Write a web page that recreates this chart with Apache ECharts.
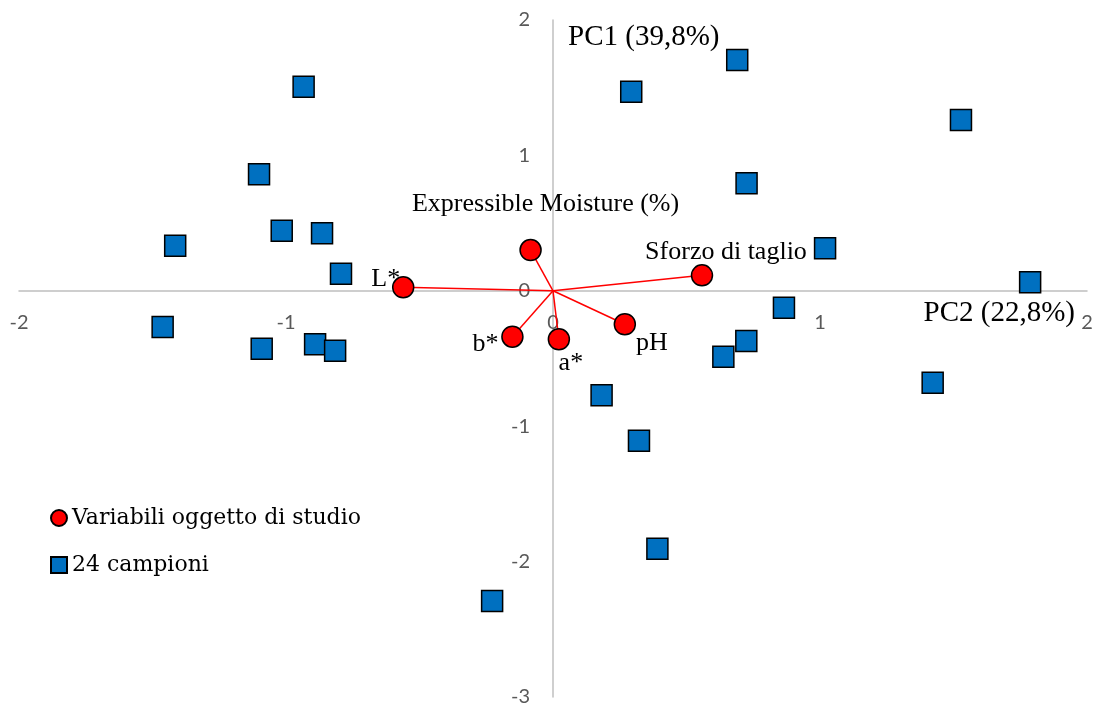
<!DOCTYPE html>
<html>
<head>
<meta charset="utf-8">
<script src="https://cdn.jsdelivr.net/npm/echarts@6/dist/echarts.min.js"></script>
<style>
html,body{margin:0;padding:0;background:#fff;}
#chart{width:1097px;height:707px;}
</style>
</head>
<body>
<div id="chart"></div>
<script>
// --- Data ---
const sampleX = [-0.934, -1.101, -1.415, -1.016, -0.865, -0.794, -1.462, -1.091, -0.891, -0.816,
                 0.293, 0.690, 0.725, 1.528, 1.019, 1.787, 0.865, 0.724, 0.638, 1.422,
                 0.182, 0.322, 0.391, -0.228];
const sampleY = [1.507, 0.860, 0.333, 0.444, 0.425, 0.126, -0.267, -0.428, -0.395, -0.442,
                 1.470, 1.705, 0.794, 1.261, 0.314, 0.063, -0.125, -0.371, -0.487, -0.679,
                 -0.772, -1.107, -1.905, -2.291];
const varNames = ['L*', 'Expressible Moisture (%)', 'Sforzo di taglio', 'pH', 'a*', 'b*'];
const varX = [-0.561, -0.084, 0.558, 0.269, 0.022, -0.152];
const varY = [0.026, 0.301, 0.114, -0.247, -0.358, -0.339];
const seriesVarName = 'Variabili oggetto di studio';
const seriesSampleName = '24 campioni';
const xAxisTitle = 'PC2 (22,8%)';
const yAxisTitle = 'PC1 (39,8%)';
const xMin = -2, xMax = 2, xStep = 1;
const yMin = -3, yMax = 2, yStep = 1;

// --- Styling / label placement (not data) ---
const labelPlace = [
  {align: 'right',  dx: -3,  dy: -8},
  {align: 'center', dx: 15,  dy: -46},
  {align: 'center', dx: 24,  dy: -23},
  {align: 'center', dx: 27,  dy: 19},
  {align: 'center', dx: 12,  dy: 24},
  {align: 'right',  dx: -14, dy: 7}
];
const serif = 'Liberation Serif';
const tickFont = 'Lato';
const gridBox = {left: 19, right: 10, top: 20, bottom: 10};

const chart = echarts.init(document.getElementById('chart'), null, {renderer: 'canvas'});

const vectorSeries = varNames.map((n, i) => ({
  type: 'line',
  name: 'vec_' + i,
  data: [[0, 0], [varX[i], varY[i]]],
  symbol: 'none',
  silent: true,
  z: 2,
  lineStyle: {color: '#FF0000', width: 1.5},
  animation: false
}));

const varData = varNames.map((n, i) => ({
  name: n,
  value: [varX[i], varY[i]],
  label: {
    show: true,
    formatter: n,
    position: 'inside',
    align: labelPlace[i].align,
    verticalAlign: 'middle',
    offset: [labelPlace[i].dx, labelPlace[i].dy],
    color: '#000',
    fontFamily: serif,
    fontSize: 26
  }
}));

const sampleData = sampleX.map((x, i) => [x, sampleY[i]]);

const axisLineStyle = {color: '#BFBFBF', width: 1.5};

chart.setOption({
  animation: false,
  backgroundColor: '#fff',
  grid: Object.assign({containLabel: false, outerBoundsMode: 'none'}, gridBox),
  legend: {
    data: [seriesVarName, seriesSampleName],
    orient: 'vertical',
    left: 45,
    top: 500,
    itemWidth: 16,
    itemHeight: 16,
    itemGap: 21,
    textStyle: {fontFamily: 'DejaVu Serif', fontSize: 22, color: '#000', lineHeight: 26}
  },
  xAxis: {
    type: 'value',
    position: 'bottom',
    min: xMin, max: xMax, interval: xStep,
    name: xAxisTitle,
    nameLocation: 'end',
    nameGap: -12,
    nameTextStyle: {fontFamily: serif, fontSize: 29, color: '#000', align: 'right', verticalAlign: 'top', padding: [8, 0, 0, 0]},
    axisLine: {show: true, onZero: false, lineStyle: axisLineStyle},
    axisTick: {show: false},
    splitLine: {show: false},
    axisLabel: {show: true, margin: 22, color: '#595959', fontFamily: tickFont, fontSize: 20}
  },
  yAxis: {
    type: 'value',
    position: 'left',
    min: yMin, max: yMax, interval: yStep,
    name: yAxisTitle,
    nameLocation: 'end',
    nameGap: 0,
    nameTextStyle: {fontFamily: serif, fontSize: 29, color: '#000', align: 'left', verticalAlign: 'top', padding: [3, 0, 0, 15]},
    axisLine: {show: true, onZero: false, lineStyle: axisLineStyle},
    axisTick: {show: false},
    splitLine: {show: false},
    axisLabel: {show: true, margin: 23, color: '#595959', fontFamily: tickFont, fontSize: 20}
  },
  series: vectorSeries.concat([
    {
      type: 'scatter',
      name: seriesVarName,
      data: varData,
      symbol: 'circle',
      symbolSize: 21,
      z: 3,
      itemStyle: {color: '#FF0000', borderColor: '#000', borderWidth: 1.5, opacity: 1}
    },
    {
      type: 'scatter',
      name: seriesSampleName,
      data: sampleData,
      symbol: 'rect',
      symbolSize: 21,
      z: 3,
      itemStyle: {color: '#0070C0', borderColor: '#000', borderWidth: 1.5, opacity: 1}
    }
  ])
});

// Move both axes so they cross at the origin (labels follow the axis lines).
const origin = chart.convertToPixel({gridIndex: 0}, [0, 0]);
const H = chart.getHeight(), W = chart.getWidth();
const bottomEdge = H - gridBox.bottom;
chart.setOption({
  xAxis: {offset: -(bottomEdge - origin[1])},
  yAxis: {offset: -(origin[0] - gridBox.left)}
});
</script>
</body>
</html>
